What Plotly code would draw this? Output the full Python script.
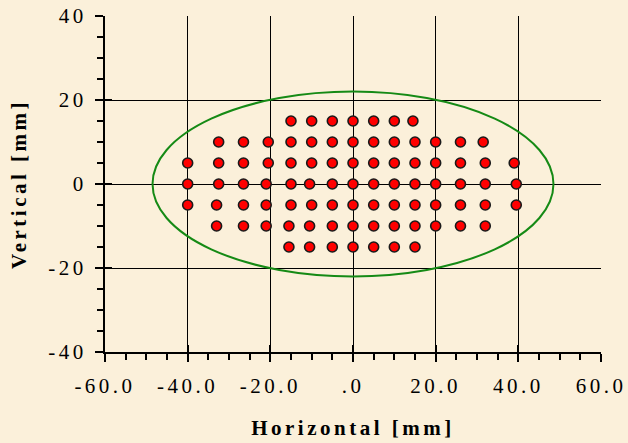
import plotly.graph_objects as go

# Hole positions per row: (row height in mm, horizontal positions in mm)
row_y = [15, 10, 5, 0, -5, -10, -15]
row_x = [
    [-15, -10, -5, 0, 5, 10, 14.5],
    [-32.5, -26.5, -20.5, -15, -10, -5, 0, 5, 10, 15, 20, 26, 31.5],
    [-40, -32.5, -26.5, -20.5, -15, -10, -5, 0, 5, 10, 15, 20, 26, 32, 39],
    [-40, -32.5, -26.5, -21, -15, -10.5, -5, 0, 5, 10, 15, 20, 26, 32, 39.5],
    [-40, -33, -26.5, -21, -15, -10, -5, 0, 5, 10, 15, 20, 26, 32, 39.5],
    [-33, -26.5, -21, -15.5, -10.5, -5, 0, 5, 10, 15, 20, 26, 32],
    [-15.5, -10.5, -5, 0, 5, 10, 15],
]

# Elliptical boundary extents (mm)
ellipse_x = [-48.5, 48.5]
ellipse_y = [-22.0, 22.0]

x_ticks = [-60, -40, -20, 0, 20, 40, 60]
x_tick_labels = ["-60.0", "-40.0", "-20.0", ".0", "20.0", "40.0", "60.0"]
y_ticks = [-40, -20, 0, 20, 40]
y_tick_labels = ["-40", "-20", "0", "20", "40"]

xs, ys = [], []
for y, row in zip(row_y, row_x):
    xs.extend(row)
    ys.extend([y] * len(row))

bg = "#FBF0DA"
font_family = "Liberation Serif, Times New Roman, serif"

fig = go.Figure()
fig.add_trace(go.Scatter(
    x=xs, y=ys, mode="markers",
    marker=dict(size=10, color="#FF0000", line=dict(color="#1a1a1a", width=1.6)),
    hoverinfo="skip", showlegend=False,
))
# empty trace so the overlay axes (inner halves of the major ticks) render
fig.add_trace(go.Scatter(x=[], y=[], xaxis="x2", yaxis="y2", showlegend=False))

fig.add_shape(
    type="circle", xref="x", yref="y",
    x0=ellipse_x[0], x1=ellipse_x[1], y0=ellipse_y[0], y1=ellipse_y[1],
    line=dict(color="#158A15", width=2),
)

axis_common = dict(
    showline=True, linecolor="black", linewidth=2,
    ticks="outside", tickcolor="black", tickwidth=2, ticklen=8,
    showgrid=True, gridcolor="black", gridwidth=1,
    zeroline=False, automargin=False,
    tickfont=dict(family=font_family, size=21, color="black"),
    minor=dict(ticks="outside", dtick=5, ticklen=6, tickwidth=1.5,
               tickcolor="black", showgrid=False),
)

fig.update_layout(
    width=628, height=443,
    margin=dict(l=105, r=27, t=16, b=91),
    paper_bgcolor=bg, plot_bgcolor=bg,
    xaxis=dict(
        range=[-60, 60], tickvals=x_ticks, ticktext=x_tick_labels,
        ticklabelstandoff=6,
        title=dict(text="<b>Horizontal [mm]</b>", standoff=23,
                   font=dict(family=font_family, size=21, color="black")),
        **axis_common,
    ),
    yaxis=dict(
        range=[-40, 40], tickvals=y_ticks, ticktext=y_tick_labels,
        ticklabelstandoff=4,
        title=dict(text="<b>Vertical [mm]</b>", standoff=26,
                   font=dict(family=font_family, size=21, color="black")),
        **axis_common,
    ),
    xaxis2=dict(
        overlaying="x", matches="x", anchor="y2", side="bottom",
        tickvals=x_ticks, ticks="inside", ticklen=7, tickwidth=2,
        tickcolor="black", showticklabels=False, showgrid=False,
        zeroline=False, showline=False, automargin=False,
    ),
    yaxis2=dict(
        overlaying="y", matches="y", anchor="x2", side="left",
        tickvals=y_ticks, ticks="inside", ticklen=7, tickwidth=2,
        tickcolor="black", showticklabels=False, showgrid=False,
        zeroline=False, showline=False, automargin=False,
    ),
)

# Wide letter spacing on the axis texts
spacing_js = """
document.querySelectorAll('.xtick text, .ytick text, .g-xtitle text, .g-ytitle text')
  .forEach(function (el) { el.style.letterSpacing = '3.5px'; });
"""

fig.write_html("out.html", post_script=spacing_js)
